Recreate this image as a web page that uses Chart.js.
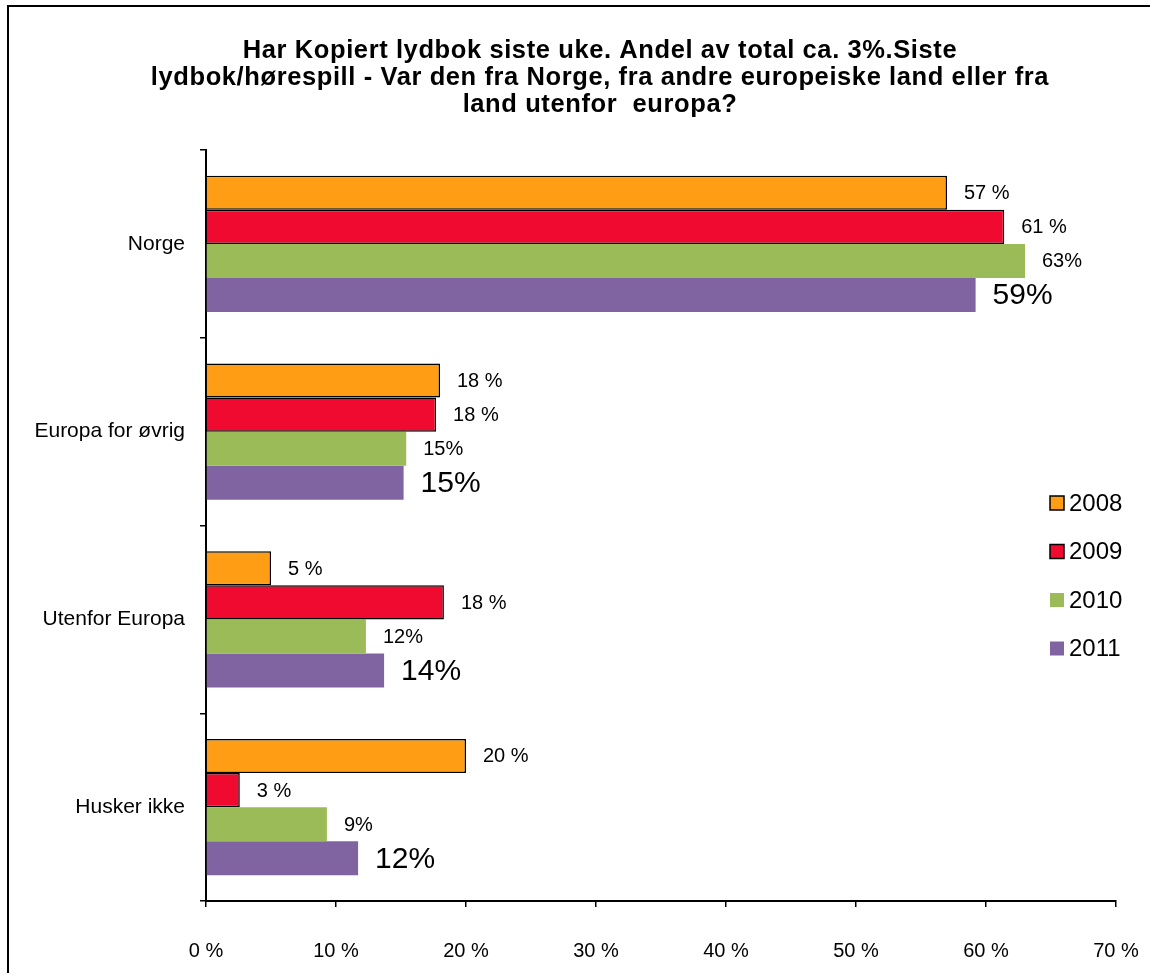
<!DOCTYPE html>
<html>
<head>
<meta charset="utf-8">
<title>Lydbok opprinnelse</title>
<script src="https://cdn.jsdelivr.net/npm/chart.js@4.4.1/dist/chart.umd.min.js"></script>
<style>
  html, body { margin: 0; padding: 0; background: #fff; }
  #wrap { position: relative; width: 1150px; height: 973px; }
</style>
</head>
<body>
<div id="wrap"><canvas id="chart" width="1150" height="973"></canvas></div>
<script>
// --- data ---
const categories = ["Norge", "Europa for øvrig", "Utenfor Europa", "Husker ikke"];
const years = ["2008", "2009", "2010", "2011"];
const values2008 = [57.0, 18.0, 5.0, 20.0];
const values2009 = [61.4, 17.7, 18.3, 2.6];
const values2010 = [63.0, 15.4, 12.3, 9.3];
const values2011 = [59.2, 15.2, 13.7, 11.7];
const xTickLabels = ["0 %", "10 %", "20 %", "30 %", "40 %", "50 %", "60 %", "70 %"];
const titleLines = [
  "Har Kopiert lydbok siste uke. Andel av total ca. 3%.Siste",
  "lydbok/hørespill - Var den fra Norge, fra andre europeiske land eller fra",
  "land utenfor  europa?"
];

const FONT = "'Liberation Sans', Arial, sans-serif";
const colors = ["#FF9E14", "#F00A2F", "#9BBB59", "#8064A2"];
const borders = ["#000000", "#000000", "rgba(0,0,0,0)", "rgba(0,0,0,0)"];
const labelSuffix = [" %", " %", "%", "%"];   // 2008/2009 labels have a space
const labelSize = [20, 20, 20, 30];          // 2011 labels are drawn bigger

const seriesValues = [values2008, values2009, values2010, values2011];

// title + frame, drawn by hand so it can sit off-centre like the original
const framePlugin = {
  id: "frame",
  beforeDraw(chart) {
    const ctx = chart.ctx;
    ctx.save();
    ctx.fillStyle = "#fff";
    ctx.fillRect(0, 0, chart.width, chart.height);
    ctx.strokeStyle = "#000";
    ctx.lineWidth = 2;
    ctx.strokeRect(8, 6, 1160, 1000);
    ctx.fillStyle = "#000";
    ctx.font = "bold 25.5px " + FONT;
    ctx.textAlign = "center";
    ctx.textBaseline = "alphabetic";
    ctx.letterSpacing = "0.6px";
    titleLines.forEach((line, i) => ctx.fillText(line, 600, 58 + i * 27));
    ctx.restore();
  }
};

// value labels to the right of each bar
const valueLabels = {
  id: "valueLabels",
  afterDatasetsDraw(chart) {
    const ctx = chart.ctx;
    ctx.save();
    ctx.fillStyle = "#000";
    ctx.textAlign = "left";
    ctx.textBaseline = "middle";
    chart.data.datasets.forEach((ds, i) => {
      ctx.font = labelSize[i] + "px " + FONT;
      chart.getDatasetMeta(i).data.forEach((bar, j) => {
        ctx.fillText(Math.round(ds.data[j]) + labelSuffix[i], bar.x + 17, bar.y + 1);
      });
    });
    ctx.restore();
  }
};

// legend sits inside the plot, lower right
const sideLegend = {
  id: "sideLegend",
  afterDraw(chart) {
    const ctx = chart.ctx;
    ctx.save();
    ctx.font = "24px " + FONT;
    ctx.textBaseline = "middle";
    ctx.textAlign = "left";
    years.forEach((y, i) => {
      const cy = 503 + i * 48.5;
      ctx.fillStyle = colors[i];
      ctx.fillRect(1050, cy - 7, 14, 14);
      if (i < 2) {
        ctx.strokeStyle = "#000";
        ctx.lineWidth = 1.5;
        ctx.strokeRect(1050, cy - 7, 14, 14);
      }
      ctx.fillStyle = "#000";
      ctx.fillText(y, 1069, cy + 1);
    });
    ctx.restore();
  }
};

new Chart(document.getElementById("chart"), {
  type: "bar",
  data: {
    labels: categories,
    datasets: years.map((y, i) => ({
      label: y,
      data: seriesValues[i],
      backgroundColor: colors[i],
      borderColor: borders[i],
      borderWidth: i < 2 ? 1.5 : 0,
      categoryPercentage: 0.727,
      barPercentage: 1.0
    }))
  },
  options: {
    indexAxis: "y",
    responsive: false,
    animation: false,
    layout: { padding: { top: 150, left: 0, right: 34, bottom: 0 } },
    plugins: {
      legend: { display: false },
      title: { display: false },
      tooltip: { enabled: false }
    },
    scales: {
      x: {
        min: 0,
        max: 70,
        afterFit: (s) => { s.height = 72; s.paddingLeft = 0; s.paddingRight = 0; },
        ticks: {
          stepSize: 10,
          color: "#000",
          padding: 32,
          font: { family: FONT, size: 20 },
          callback: (v, i) => xTickLabels[i]
        },
        grid: { drawOnChartArea: false, drawTicks: true, tickLength: 6, color: "#000", lineWidth: 1.5 },
        border: { display: true, color: "#000", width: 2 }
      },
      y: {
        afterFit: (s) => { s.width = 206; },
        ticks: {
          color: "#000",
          padding: 15,
          font: { family: FONT, size: 21 }
        },
        grid: { drawOnChartArea: false, drawTicks: true, tickLength: 6, color: "#000", lineWidth: 1.5 },
        border: { display: true, color: "#000", width: 2 }
      }
    }
  },
  plugins: [framePlugin, valueLabels, sideLegend]
});
</script>
</body>
</html>
